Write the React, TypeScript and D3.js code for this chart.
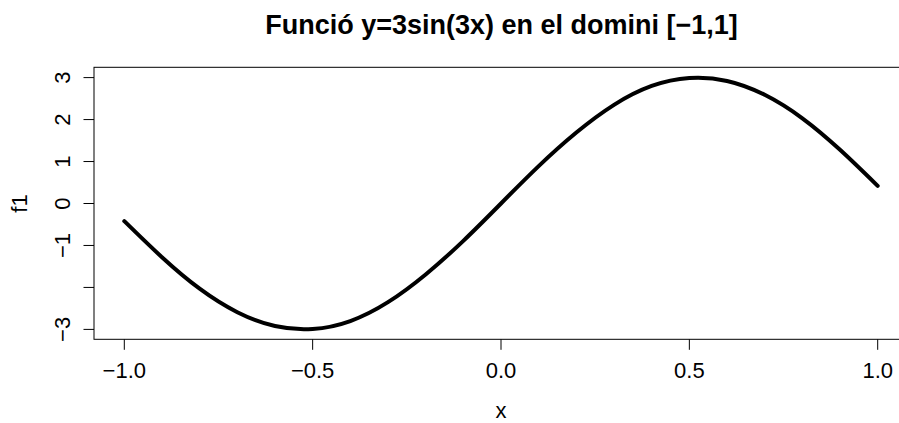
import React from "react";
import * as d3 from "d3";

const xValues = [-1.0, -0.9, -0.8, -0.7, -0.6, -0.5, -0.4, -0.3, -0.2, -0.1, 0.0, 0.1, 0.2, 0.3, 0.4, 0.5, 0.6, 0.7, 0.8, 0.9, 1.0];
const f1Values = [-0.42, -1.28, -2.03, -2.59, -2.92, -2.99, -2.8, -2.35, -1.69, -0.89, 0.0, 0.89, 1.69, 2.35, 2.8, 2.99, 2.92, 2.59, 2.03, 1.28, 0.42];
const xTicks = [-1.0, -0.5, 0.0, 0.5, 1.0];
const yTicks = [-3, -2, -1, 0, 1, 2, 3];
const yTickLabels = ["−3", "", "−1", "0", "1", "2", "3"];
const title = "Funció y=3sin(3x) en el domini [−1,1]";

export default function App() {
  const W = 899, H = 423;
  const x = d3.scaleLinear().domain([-1, 1]).range([124.3, 877.7]);
  const y = d3.scaleLinear().domain([-3, 3]).range([329.4, 77.6]);
  const box = { l: 94, t: 67.3, r: 908, b: 339.3 };
  const pts: [number, number][] = xValues.map((v, i) => [v, f1Values[i]]);
  const line = d3.line<[number, number]>().x(d => x(d[0])).y(d => y(d[1])).curve(d3.curveNatural);
  const font = "'Liberation Sans', Arial, sans-serif";
  const fmt = (v: number) => (v < 0 ? "−" : "") + Math.abs(v).toFixed(1);
  return (
    <svg width={W} height={H} style={{ position: "absolute", left: 0, top: 0, background: "#fff" }} fontFamily={font}>
      <rect x={0} y={0} width={W} height={H} fill="#fff" />
      <text x={501.5} y={34} textAnchor="middle" fontSize={27} fontWeight="bold">{title}</text>
      <rect x={box.l} y={box.t} width={box.r - box.l} height={box.b - box.t} fill="none" stroke="#000" strokeWidth={1} />
      <path d={line(pts) || ""} fill="none" stroke="#000" strokeWidth={4} strokeLinejoin="round" strokeLinecap="round" />
      {xTicks.map(t => (
        <g key={t}>
          <line x1={x(t)} x2={x(t)} y1={box.b} y2={box.b + 10.5} stroke="#000" />
          <text x={x(t)} y={378} textAnchor="middle" fontSize={22}>{fmt(t)}</text>
        </g>
      ))}
      {yTicks.map((t, i) => (
        <g key={t}>
          <line x1={box.l - 10.5} x2={box.l} y1={y(t)} y2={y(t)} stroke="#000" />
          <text transform={`translate(${70},${y(t)}) rotate(-90)`} textAnchor="middle" fontSize={22}>{yTickLabels[i]}</text>
        </g>
      ))}
      <text x={501} y={418} textAnchor="middle" fontSize={22}>x</text>
      <text transform={`translate(${26.5},${203.5}) rotate(-90)`} textAnchor="middle" fontSize={22}>f1</text>
    </svg>
  );
}
